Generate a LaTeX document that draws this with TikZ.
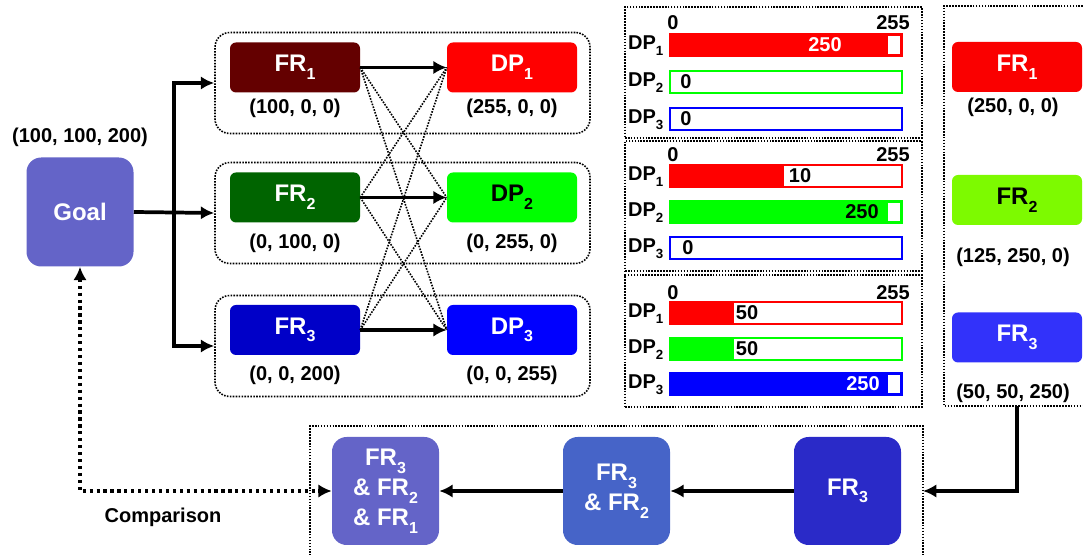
\documentclass[tikz,border=0pt]{standalone}
\usepackage{fontspec}
\setmainfont{Liberation Sans}
\usetikzlibrary{positioning, arrows.meta}

\definecolor{goalc}{RGB}{100,100,200}
\definecolor{fra}{RGB}{100,0,0}
\definecolor{frb}{RGB}{0,100,0}
\definecolor{frc}{RGB}{0,0,200}
\definecolor{ofra}{RGB}{250,0,0}
\definecolor{ofrb}{RGB}{125,250,0}
\definecolor{ofrc}{RGB}{50,50,250}
\definecolor{sumb}{RGB}{70,100,200}
\definecolor{sumc}{RGB}{42,42,200}

% subscripts for big and small labels
\newcommand{\lo}[1]{\raisebox{-0.6ex}{\fontsize{12}{12}\selectfont #1}}
\newcommand{\los}[1]{\raisebox{-0.55ex}{\fontsize{10}{10}\selectfont #1}}
% one DP bar: top y, colour, end of fill, value, value x, value colour
\newcommand{\dpbar}[6]{%
  \fill[#2] (669,#1) rectangle (#3,#1+24);
  \draw[#2, line width=1.6pt] (670,#1+1) rectangle (902,#1+23);
  \node[text=#6] at (#5,#1+12) {#4};}

\begin{document}
\begin{tikzpicture}[x=0.75pt, y=-0.75pt,
  font=\bfseries\fontsize{15}{18}\selectfont,
  blk/.style={rounded corners=4.5pt, minimum width=97.5pt, minimum height=37.5pt, inner sep=0pt, text=white, font=\bfseries\fontsize{18}{22}\selectfont},
  big/.style={rounded corners=11pt, minimum width=80.25pt, minimum height=81pt, inner sep=0pt, text=white, align=center, font=\bfseries\fontsize{18}{22.5}\selectfont},
  grp/.style={draw, densely dotted, line width=1.2pt, rounded corners=11pt, minimum width=281.25pt, minimum height=75.75pt},
  pan/.style={draw, densely dotted, line width=1.2pt, minimum width=222.75pt, inner sep=0pt},
  arr/.style={line width=2.8pt, -{Latex[length=10pt,width=10pt]}},
  cross/.style={densely dotted, line width=1.2pt},
  cmp/.style={line width=3pt, dash pattern=on 2.4pt off 2.8pt, {Latex[length=10pt,width=10pt]}-{Latex[length=10pt,width=10pt]}}]
		\useasboundingbox (0,0) rectangle (1083,555);
		%goal
		\node[big, fill=goalc, minimum height=81.75pt] (goal) at (80,212) {Goal};
		\node (goalval) at (80,137) {(100, 100, 200)};
		%mapping
		\node[grp] (grp1) at (402.5,83) {};
		\node[grp] (grp2) at (402.5,213) {};
		\node[grp] (grp3) at (402.5,346) {};
		\node[blk, fill=fra] (fr1) at (295,67.5) {FR\lo{1}};
		\node[blk, fill=frb] (fr2) at (295,197.5) {FR\lo{2}};
		\node[blk, fill=frc] (fr3) at (295,330) {FR\lo{3}};
		\node[blk, fill=red] (dp1) at (512,67.5) {DP\lo{1}};
		\node[blk, fill=green, text=black] (dp2) at (512,197.5) {DP\lo{2}};
		\node[blk, fill=blue] (dp3) at (512,330) {DP\lo{3}};
		\node (fr1val) at (295,108) {(100, 0, 0)};
		\node (fr2val) at (295,243) {(0, 100, 0)};
		\node (fr3val) at (295,375) {(0, 0, 200)};
		\node (dp1val) at (512,108) {(255, 0, 0)};
		\node (dp2val) at (512,243) {(0, 255, 0)};
		\node (dp3val) at (512,375) {(0, 0, 255)};
		\coordinate (split) at (174,212);
		\draw[arr] (goal.east) -- (grp2.west);
		\draw[arr] (split) |- (grp1.west);
		\draw[arr] (split) |- (grp3.west);
		\foreach \i in {1,2,3} \draw[arr] (fr\i.east) -- (dp\i.west);
		\foreach \i/\j in {1/2,1/3,2/1,2/3,3/1,3/2} \draw[cross] (fr\i.east) -- (dp\j.west);
		%bars
		\node[pan, minimum height=98.25pt] (pan1) at (773.5,72.5) {};
		\node[pan, minimum height=97.5pt] (pan2) at (773.5,206) {};
		\node[pan, minimum height=99pt] (pan3) at (773.5,341) {};
		\foreach \y in {23,155,293} {
			\node at (673,\y) {0};
			\node at (893,\y) {255};
		}
		\foreach \y/\i in {33/1,70/2,107/3,164/1,200/2,236/3,301/1,337/2,372/3}
			\node[anchor=east] at (668,\y+13) {DP\los{\i}};
		\dpbar{33}{red}{903}{250}{825}{white}
		\fill[white] (888,36) rectangle (900,54);
		\dpbar{70}{green}{669}{0}{686}{black}
		\dpbar{107}{blue}{669}{0}{686}{black}
		\dpbar{164}{red}{784}{10}{800}{black}
		\dpbar{200}{green}{903}{250}{862}{black}
		\fill[white] (888,203) rectangle (900,221);
		\dpbar{236}{blue}{669}{0}{688}{black}
		\dpbar{301}{red}{734}{50}{747}{black}
		\dpbar{337}{green}{734}{50}{747}{black}
		\dpbar{372}{blue}{903}{250}{863}{white}
		\fill[white] (888,375) rectangle (900,393);
		%outcome
		\draw[densely dotted, line width=1.2pt] (1083,6) -- (944,6) -- (944,406) -- (1083,406);
		\node[blk, fill=ofra] (ofr1) at (1017,67) {FR\lo{1}};
		\node[blk, fill=ofrb, text=black] (ofr2) at (1017,200) {FR\lo{2}};
		\node[blk, fill=ofrc] (ofr3) at (1017,337.5) {FR\lo{3}};
		\node (ofr1val) at (1013,107) {(250, 0, 0)};
		\node (ofr2val) at (1013,257) {(125, 250, 0)};
		\node (ofr3val) at (1013,393) {(50, 50, 250)};
		%summation
		\draw[densely dotted, line width=1.2pt] (310,556) -- (310,426) -- (923,426) -- (923,556);
		\node[big, fill=sumc] (sc) at (847.5,491) {FR\lo{3}};
		\node[big, fill=sumb] (sb) at (616.5,491) {FR\lo{3}\\\& FR\lo{2}};
		\node[big, fill=goalc] (sa) at (385.5,491) {FR\lo{3}\\\& FR\lo{2}\\\& FR\lo{1}};
		\coordinate (outbot) at (1017,406);
		\coordinate (sumin) at (923,491);
		\draw[arr] (outbot) |- (sumin);
		\draw[arr] (sc.west) -- (sb.east);
		\draw[arr] (sb.west) -- (sa.east);
		\draw[cmp] (goal.south) |- (sa.west);
		\node (cmptext) at (163,517) {Comparison};
\end{tikzpicture}
\end{document}
